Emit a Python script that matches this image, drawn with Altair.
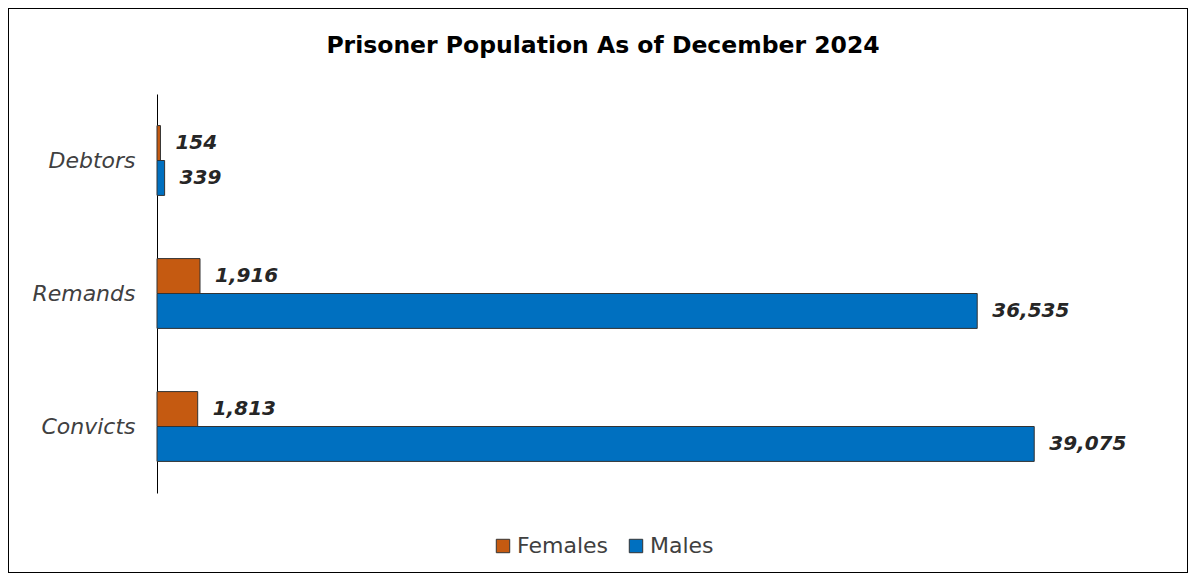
import altair as alt
import pandas as pd

categories = ["Debtors", "Remands", "Convicts"]
females = [154, 1916, 1813]
males = [339, 36535, 39075]
series = ["Females", "Males"]
colors = ["#C55A11", "#0070C0"]

rows = []
for c, f, m in zip(categories, females, males):
    rows.append({"category": c, "sex": "Females", "value": f})
    rows.append({"category": c, "sex": "Males", "value": m})
df = pd.DataFrame(rows)
df["label"] = df["value"].map(lambda v: f"{v:,}")

FONT = "DejaVu Sans"

y_enc = alt.Y("category:N", sort=categories,
              scale=alt.Scale(range=[86, 485], paddingInner=0.475, paddingOuter=0.2375),
              axis=alt.Axis(title=None, offset=-149, ticks=False, labelPadding=22,
                            labelFontSize=22, labelFontStyle="italic", labelColor="#404040",
                            labelFont=FONT, domainColor="#000000", domainWidth=1, labelFontWeight="normal"))
x_enc = alt.X("value:Q", scale=alt.Scale(domain=[0, 40000], range=[149, 1047], nice=False), axis=None)
yoff = alt.YOffset("sex:N", sort=series)

bars = alt.Chart(df).mark_bar(stroke="#333333", strokeWidth=1).encode(
    y=y_enc, x=x_enc, yOffset=yoff,
    color=alt.Color("sex:N", sort=series, scale=alt.Scale(domain=series, range=colors),
                    legend=alt.Legend(title=None, orient="none", legendX=484, legendY=527,
                                      direction="horizontal", symbolType="square", symbolSize=180,
                                      symbolStrokeColor="#333333", symbolStrokeWidth=1,
                                      labelFontSize=22, labelColor="#404040", labelFont=FONT,
                                      columnPadding=16, labelOffset=3)),
)

labels = alt.Chart(df).mark_text(align="left", baseline="middle", dx=15, fontSize=20,
                                  fontStyle="italic", fontWeight="bold", color="#262626",
                                  font=FONT).encode(
    y=y_enc, x=x_enc, yOffset=yoff, text="label:N")

chart = alt.layer(bars, labels).properties(
    width=1180, height=565, padding=0,
    title=alt.TitleParams("Prisoner Population As of December 2024", anchor="middle",
                          frame="group", offset=-49, fontSize=23.5, fontWeight="bold",
                          font=FONT, color="#000000", dx=5),
).configure_view(stroke="#000000", strokeWidth=2)

chart.save("out.html", embed_options={"renderer": "svg", "actions": False})
